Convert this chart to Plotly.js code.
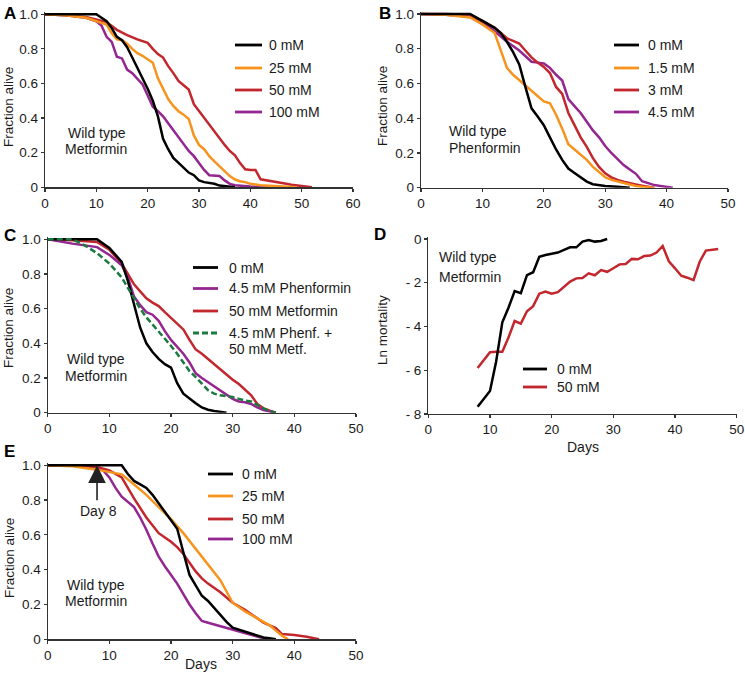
<!DOCTYPE html>
<html>
<head>
<meta charset="utf-8">
<script src="https://cdn.plot.ly/plotly-3.0.1.min.js"></script>
<style>html,body{margin:0;padding:0;background:#fff;}#chart{width:745px;height:674px;}</style>
</head>
<body>
<div id="chart"></div>
<script>
// ---------------- DATA ----------------
// Panel A: wild type, metformin (fraction alive vs days)
const aDays0 = [0,2,4,6,8,10,11,12,13,14,15,16,17,18,19,20,21,22,23,24,25,26,27,28,29,30,31,32,33,34,35,36,37];
const aAlive0 = [1,1,1,1,1,1.0,0.98,0.96,0.92,0.87,0.85,0.81,0.75,0.69,0.63,0.57,0.50,0.41,0.28,0.22,0.17,0.14,0.11,0.085,0.07,0.04,0.03,0.025,0.02,0.01,0.006,0.003,0];
const aDays25 = [0,4,8,10,12,13,14,15,16,17,18,19,20,21,22,23,24,25,26,27,28,29,30,31,32,33,34,35,36,37,38,39,40,42,44,46,49];
const aAlive25 = [1,0.995,0.98,0.96,0.94,0.89,0.855,0.85,0.83,0.80,0.775,0.76,0.74,0.72,0.63,0.57,0.51,0.47,0.44,0.42,0.395,0.30,0.245,0.22,0.18,0.15,0.12,0.09,0.065,0.045,0.035,0.03,0.02,0.012,0.008,0.005,0];
const aDays50 = [0,4,8,10,12,14,16,18,20,21,22,23,24,25,26,27,28,29,30,31,32,33,34,35,36,37,38,39,40,41,42,43,44,45,46,47,48,49,50,52];
const aAlive50 = [1,0.995,0.985,0.97,0.955,0.91,0.88,0.855,0.835,0.80,0.77,0.75,0.70,0.66,0.615,0.59,0.565,0.48,0.44,0.40,0.36,0.32,0.28,0.245,0.21,0.185,0.14,0.104,0.10,0.10,0.046,0.04,0.035,0.028,0.022,0.02,0.015,0.01,0.007,0];
const aDays100 = [0,4,8,10,11,12,13,14,15,16,17,18,19,20,21,22,23,24,25,26,27,28,29,30,31,32,33,34,35,36,37,38,40,44];
const aAlive100 = [1,0.995,0.98,0.96,0.935,0.87,0.84,0.755,0.745,0.68,0.66,0.63,0.595,0.53,0.466,0.44,0.41,0.37,0.33,0.29,0.25,0.21,0.18,0.14,0.10,0.07,0.068,0.065,0.04,0.02,0.012,0.008,0.004,0];

// Panel B: wild type, phenformin
const bDays0 = [0,4,8,10,12,13,14,15,16,17,18,19,20,21,22,23,24,25,26,27,28,29,30,32,34];
const bAlive0 = [1,1,1.0,0.96,0.92,0.89,0.84,0.78,0.71,0.58,0.457,0.41,0.36,0.29,0.22,0.16,0.11,0.085,0.06,0.035,0.02,0.015,0.01,0.005,0];
const bDays15 = [0,4,8,10,12,13,14,15,16,17,18,19,20,21,22,23,24,25,26,27,28,29,30,31,32,33,34,35,36,38];
const bAlive15 = [1,0.995,0.98,0.94,0.89,0.79,0.69,0.65,0.62,0.59,0.56,0.53,0.497,0.486,0.42,0.34,0.25,0.22,0.19,0.16,0.12,0.09,0.06,0.045,0.035,0.025,0.018,0.01,0.005,0];
const bDays3 = [0,4,8,10,12,13,14,15,16,17,18,19,20,21,22,23,24,25,26,27,28,29,30,31,32,33,34,35,36,37,38];
const bAlive3 = [1,1,0.995,0.96,0.92,0.89,0.86,0.845,0.83,0.79,0.75,0.72,0.695,0.66,0.58,0.54,0.43,0.36,0.29,0.235,0.17,0.12,0.083,0.06,0.045,0.035,0.025,0.018,0.012,0.006,0];
const bDays45 = [0,4,8,10,12,14,16,17,18,19,20,21,22,23,24,25,26,27,28,29,30,31,32,33,34,35,36,37,38,39,40,41];
const bAlive45 = [1,0.995,0.985,0.95,0.90,0.84,0.79,0.76,0.725,0.72,0.715,0.69,0.65,0.617,0.51,0.47,0.43,0.38,0.33,0.29,0.24,0.20,0.165,0.13,0.105,0.08,0.037,0.025,0.015,0.01,0.005,0];

// Panel C: combination
const cDays0 = [0,4,8,10,12,13,14,15,16,17,18,19,20,21,22,23,24,25,26,27,28,29];
const cAlive0 = [1,1,1.0,0.95,0.87,0.76,0.63,0.49,0.40,0.35,0.31,0.28,0.26,0.17,0.11,0.08,0.055,0.03,0.017,0.01,0.004,0];
const cDaysPhen = [0,4,8,10,12,13,14,15,16,17,18,19,20,21,22,23,24,25,26,27,28,29,30,31,32,33,34,35,36,37];
const cAlivePhen = [1,0.975,0.955,0.91,0.85,0.78,0.67,0.62,0.58,0.565,0.53,0.47,0.42,0.38,0.34,0.29,0.227,0.20,0.175,0.15,0.125,0.105,0.08,0.065,0.06,0.05,0.03,0.015,0.008,0];
const cDaysMet = [0,4,8,10,12,13,14,15,16,17,18,19,20,21,22,23,24,25,26,27,28,29,30,31,32,33,34,35,36,37];
const cAliveMet = [1,0.995,0.985,0.94,0.86,0.80,0.74,0.70,0.66,0.635,0.615,0.58,0.545,0.51,0.48,0.42,0.365,0.34,0.31,0.28,0.245,0.22,0.19,0.165,0.13,0.10,0.05,0.025,0.012,0];
const cDaysBoth = [0,4,6,8,10,11,12,13,14,15,16,17,18,19,20,21,22,23,24,25,26,27,28,29,30,31,32,33,34,35,36,37];
const cAliveBoth = [1,1.0,0.965,0.92,0.86,0.82,0.78,0.72,0.66,0.60,0.55,0.51,0.47,0.43,0.385,0.34,0.29,0.24,0.205,0.17,0.13,0.11,0.10,0.095,0.09,0.08,0.07,0.065,0.045,0.025,0.01,0];

// Panel D: ln mortality
const dDays0 = [8,10,11,12,13,14,15,16,17,18,19,20,21,22,23,24,25,26,27,28,29];
const dLn0 = [-7.67,-6.95,-5.6,-3.81,-3.14,-2.38,-2.48,-1.65,-1.52,-0.81,-0.73,-0.66,-0.62,-0.50,-0.38,-0.38,-0.12,-0.05,-0.12,-0.09,0];
const dDays50 = [8,10,11,12,13,14,15,16,17,18,19,20,21,22,23,24,25,26,27,28,29,30,31,32,33,34,35,36,37,38,39,40,41,42,43,44,45,47];
const dLn50 = [-5.9,-5.18,-5.15,-5.15,-4.5,-3.75,-3.87,-3.3,-3.07,-2.5,-2.4,-2.5,-2.43,-2.18,-1.95,-1.8,-1.78,-1.57,-1.66,-1.42,-1.5,-1.34,-1.16,-1.14,-0.91,-0.93,-0.78,-0.76,-0.62,-0.32,-1.02,-1.34,-1.68,-1.77,-1.88,-1.04,-0.53,-0.46];

// Panel E: treatment starting day 8
const eDays0 = [0,4,8,10,12,13,14,15,16,17,18,19,20,21,22,23,24,25,26,27,28,29,30,31,32,33,34,35,36,37];
const eAlive0 = [1,1,1,1,1.0,0.95,0.91,0.89,0.87,0.83,0.78,0.73,0.68,0.635,0.50,0.37,0.31,0.25,0.22,0.18,0.14,0.10,0.067,0.055,0.045,0.035,0.02,0.01,0.006,0];
const eDays25 = [0,4,8,10,12,14,16,18,20,22,24,26,28,30,32,34,36,37,38,39];
const eAlive25 = [1,0.995,0.975,0.96,0.948,0.89,0.83,0.76,0.69,0.61,0.52,0.43,0.34,0.21,0.16,0.12,0.08,0.05,0.02,0];
const eDays50 = [0,4,8,10,12,14,16,18,20,21,22,23,24,25,26,28,30,32,34,35,36,37,38,40,42,44];
const eAlive50 = [1,1,0.99,0.97,0.93,0.81,0.70,0.61,0.56,0.53,0.49,0.44,0.39,0.35,0.32,0.27,0.21,0.17,0.12,0.095,0.08,0.065,0.03,0.025,0.015,0];
const eDays100 = [0,4,8,9,10,11,12,13,14,15,16,17,18,19,20,21,22,23,24,25,26,27,28,29,30,31,32,33,34,35,36];
const eAlive100 = [1,1,0.99,0.97,0.93,0.87,0.82,0.79,0.76,0.70,0.63,0.55,0.475,0.42,0.37,0.32,0.26,0.20,0.15,0.105,0.095,0.085,0.075,0.065,0.055,0.045,0.035,0.025,0.015,0.006,0];

// tick labels
const survTickVals = [0,0.2,0.4,0.6,0.8,1.0];
const survTickText = ['0','0.2','0.4','0.6','0.8','1.0'];
const lnTickVals = [0,-2,-4,-6,-8];
const lnTickText = ['0','- 2','- 4','- 6','- 8'];
const legA = ['0 mM','25 mM','50 mM','100 mM'];
const legB = ['0 mM','1.5 mM','3 mM','4.5 mM'];
const legC = ['0 mM','4.5 mM Phenformin','50 mM Metformin','4.5 mM Phenf. +','50 mM Metf.'];
const legD = ['0 mM','50 mM'];
const legE = ['0 mM','25 mM','50 mM','100 mM'];

// ---------------- STYLE ----------------
const W = 745, H = 674;
const FONT = 'Liberation Sans, Arial, Helvetica, sans-serif';
const TXT = '#1a1a1a';
const C_BLACK = '#000000', C_ORANGE = '#F7941D', C_RED = '#C1272D', C_PURPLE = '#93278F', C_GREEN = '#1B7A3E';
const DASH = '6px,3px';
const LW = 2.5;
const px = v => v / W;
const py = v => 1 - v / H;

function tr(x, y, color, ax, dash) {
  return {x: x, y: y, type: 'scatter', mode: 'lines', xaxis: 'x' + ax, yaxis: 'y' + ax,
    line: {color: color, width: LW, dash: dash || 'solid'}, showlegend: false, hoverinfo: 'skip'};
}
const data = [
  tr(aDays100, aAlive100, C_PURPLE, ''), tr(aDays50, aAlive50, C_RED, ''), tr(aDays25, aAlive25, C_ORANGE, ''), tr(aDays0, aAlive0, C_BLACK, ''),
  tr(bDays45, bAlive45, C_PURPLE, '2'), tr(bDays3, bAlive3, C_RED, '2'), tr(bDays15, bAlive15, C_ORANGE, '2'), tr(bDays0, bAlive0, C_BLACK, '2'),
  tr(cDaysMet, cAliveMet, C_RED, '3'), tr(cDaysPhen, cAlivePhen, C_PURPLE, '3'), tr(cDays0, cAlive0, C_BLACK, '3'), tr(cDaysBoth, cAliveBoth, C_GREEN, '3', DASH),
  tr(dDays50, dLn50, C_RED, '4'), tr(dDays0, dLn0, C_BLACK, '4'),
  tr(eDays100, eAlive100, C_PURPLE, '5'), tr(eDays50, eAlive50, C_RED, '5'), tr(eDays25, eAlive25, C_ORANGE, '5'), tr(eDays0, eAlive0, C_BLACK, '5')
];

function xax(l, r, range, dtick, anchor) {
  return {domain: [px(l), px(r)], range: range, anchor: anchor, dtick: dtick, tick0: 0,
    showline: true, linecolor: '#333', linewidth: 1.2, ticks: 'outside', ticklen: 3, tickwidth: 1.2, tickcolor: '#333',
    showgrid: false, zeroline: false, tickfont: {family: FONT, size: 13.5, color: TXT}, fixedrange: true};
}
function yax(bot, top, range, vals, text, anchor) {
  return {domain: [py(bot), py(top)], range: range, anchor: anchor, tickmode: 'array', tickvals: vals, ticktext: text,
    showline: true, linecolor: '#333', linewidth: 1.2, ticks: 'outside', ticklen: 3, tickwidth: 1.2, tickcolor: '#333',
    showgrid: false, zeroline: false, tickfont: {family: FONT, size: 13.5, color: TXT}, fixedrange: true};
}

const layout = {
  width: W, height: H, margin: {l: 0, r: 0, t: 0, b: 0}, paper_bgcolor: '#fff', plot_bgcolor: 'rgba(0,0,0,0)',
  showlegend: false, font: {family: FONT, color: TXT},
  xaxis: xax(45, 353, [0, 60], 10, 'y'),
  yaxis: yax(187.3, 12.2, [0, 1.012], survTickVals, survTickText, 'x'),
  xaxis2: xax(421, 728, [0, 50], 10, 'y2'),
  yaxis2: yax(187.7, 11.9, [0, 1.012], survTickVals, survTickText, 'x2'),
  xaxis3: xax(47.7, 356, [0, 50], 10, 'y3'),
  yaxis3: yax(412.7, 237.2, [0, 1.012], survTickVals, survTickText, 'x3'),
  xaxis4: xax(428.3, 736.7, [0, 50], 10, 'y4'),
  yaxis4: yax(414, 236.8, [-8, 0.1], lnTickVals, lnTickText, 'x4'),
  xaxis5: xax(47.7, 356, [0, 50], 10, 'y5'),
  yaxis5: yax(639.3, 463.2, [0, 1.012], survTickVals, survTickText, 'x5'),
  shapes: [], annotations: []
};

function ann(text, x, y, opts) {
  layout.annotations.push(Object.assign({text: text, x: px(x), y: py(y), xref: 'paper', yref: 'paper',
    xanchor: 'left', yanchor: 'middle', showarrow: false, font: {family: FONT, size: 14, color: TXT}}, opts || {}));
}
function legend(labels, colors, dashes, x0, x1, tx, rows) {
  labels.forEach((lab, i) => {
    if (colors[i]) {
      layout.shapes.push({type: 'line', xref: 'paper', yref: 'paper', x0: px(x0), x1: px(x1), y0: py(rows[i]), y1: py(rows[i]),
        line: {color: colors[i], width: LW + 0.3, dash: dashes[i] || 'solid'}});
    }
    ann(lab, tx, rows[i]);
  });
}

// panel letters
[['A', 2, 13], ['B', 377, 13], ['C', 2, 235], ['D', 372, 234], ['E', 2, 452]].forEach(p =>
  ann('<b>' + p[0] + '</b>', p[1], p[2], {font: {family: FONT, size: 17, color: '#000'}}));

// axis titles
[[9, 107, 'Fraction alive'], [382, 106, 'Fraction alive'], [9, 328, 'Fraction alive'], [383, 330, 'Ln mortality'], [9, 558, 'Fraction alive']]
  .forEach(t => ann(t[2], t[0], t[1], {xanchor: 'center', textangle: -90, font: {family: FONT, size: 13.5, color: TXT}}));
ann('Days', 583, 446.5, {xanchor: 'center'});
ann('Days', 201, 664, {xanchor: 'center'});

// "Wild type" captions
ann('Wild type', 96.5, 133, {xanchor: 'center'}); ann('Metformin', 96, 149.5, {xanchor: 'center'});
ann('Wild type', 447, 131, {}); ann('Phenformin', 447, 147.5, {});
ann('Wild type', 96, 358.5, {xanchor: 'center'}); ann('Metformin', 96, 376, {xanchor: 'center'});
ann('Wild type', 437, 257, {}); ann('Metformin', 437, 276.5, {});
ann('Wild type', 96, 584.5, {xanchor: 'center'}); ann('Metformin', 96, 601, {xanchor: 'center'});

// legends
legend(legA, [C_BLACK, C_ORANGE, C_RED, C_PURPLE], [], 235, 262, 267, [45, 68, 90, 112]);
legend(legB, [C_BLACK, C_ORANGE, C_RED, C_PURPLE], [], 614, 639, 646, [45, 68, 90, 112]);
legend(legC, [C_BLACK, C_PURPLE, C_RED, C_GREEN, null], [null, null, null, DASH], 193, 218, 227, [267.5, 288.5, 311, 333, 349]);
legend(legD, [C_BLACK, C_RED], [], 523, 547, 555, [369, 387]);
legend(legE, [C_BLACK, C_ORANGE, C_RED, C_PURPLE], [], 208, 233, 240, [474, 496, 519, 539]);

// Day 8 arrow
layout.annotations.push({x: 8, y: 1.0, xref: 'x5', yref: 'y5', ax: 8, ay: 0.79, axref: 'x5', ayref: 'y5',
  text: '', showarrow: true, arrowhead: 2, arrowsize: 2.2, arrowwidth: 1.6, arrowcolor: '#222', standoff: 0});
ann('Day 8', 98, 511, {xanchor: 'center'});

Plotly.newPlot('chart', data, layout, {staticPlot: true, displayModeBar: false});
</script>
</body>
</html>
